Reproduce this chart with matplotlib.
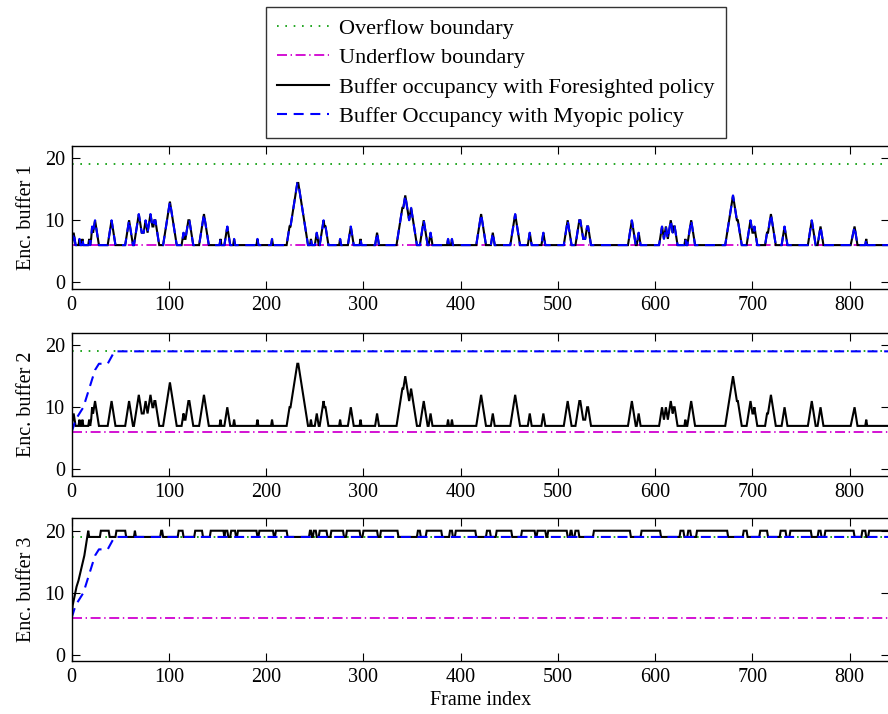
import matplotlib
matplotlib.use("Agg")
import matplotlib.pyplot as plt

plt.rcParams['font.family'] = ['Liberation Serif', 'DejaVu Serif']
plt.rcParams['lines.scale_dashes'] = False
FS = 14.5
LFS = 16

# ---------------- data ----------------
frames_max = 840
overflow = 19
underflow = 6

# Panel 1: foresighted buffer occupancy (vertices: frame, value)
fore1_pts = [
    (0, 6), (2, 8), (4, 6), (7, 6), (8, 7), (9, 6), (10, 6), (11, 7), (12, 6), (17, 6), (18, 7), (19, 6),
    (20, 7), (21, 9), (22, 8), (24, 10), (28, 6), (37, 6), (41, 10), (45, 6), (55, 6), (59, 10), (63, 6),
    (64, 6), (69, 11), (72, 8), (74, 8), (76, 10), (78, 8), (81, 11), (83, 9), (84, 9), (85, 10), (86, 10),
    (90, 6), (94, 6), (101, 13), (108, 6), (113, 6), (115, 8), (116, 7), (117, 7), (120, 10), (121, 10),
    (125, 6), (131, 6), (136, 11), (141, 6), (152, 6), (153, 7), (154, 6), (157, 6), (160, 9), (163, 6),
    (166, 6), (167, 7), (168, 6), (190, 6), (191, 7), (192, 6), (205, 6), (206, 7), (207, 6), (221, 6),
    (224, 9), (225, 9), (232, 16), (233, 16), (243, 6), (245, 6), (246, 7), (247, 6), (250, 6), (252, 8),
    (254, 6), (255, 6), (259, 10), (260, 9), (261, 9), (262, 8), (264, 6), (275, 6), (276, 7), (277, 6),
    (284, 6), (287, 9), (290, 6), (296, 6), (297, 7), (298, 6), (312, 6), (314, 8), (316, 6), (334, 6),
    (340, 12), (341, 12), (343, 14), (347, 10), (349, 12), (355, 6), (358, 6), (362, 10), (366, 6),
    (367, 6), (369, 8), (371, 6), (386, 6), (387, 7), (388, 6), (390, 6), (391, 7), (392, 6), (416, 6),
    (421, 11), (426, 6), (431, 6), (433, 8), (435, 6), (451, 6), (456, 11), (461, 6), (469, 6), (471, 8),
    (473, 6), (483, 6), (485, 8), (487, 6), (506, 6), (510, 10), (514, 6), (518, 6), (522, 10), (523, 10),
    (526, 7), (528, 7), (530, 9), (531, 9), (534, 6), (572, 6), (576, 10), (580, 6), (581, 6), (583, 8),
    (585, 6), (604, 6), (607, 9), (609, 7), (611, 9), (613, 7), (616, 10), (618, 8), (619, 9), (620, 9),
    (623, 6), (630, 6), (631, 7), (632, 6), (633, 6), (637, 10), (641, 6), (672, 6), (680, 14), (684, 10),
    (685, 10), (689, 6), (694, 6), (698, 10), (700, 8), (701, 8), (702, 9), (705, 6), (713, 6), (715, 8),
    (716, 8), (719, 11), (724, 6), (730, 6), (733, 9), (736, 6), (757, 6), (761, 10), (765, 6), (767, 6),
    (770, 9), (773, 6), (801, 6), (805, 9), (808, 6), (816, 6), (817, 7), (818, 6), (840, 6),
]
# Panel 1: myopic buffer occupancy (follows the foresighted curve closely)
myop1_pts = fore1_pts

# Panel 2: foresighted buffer occupancy
fore2_pts = [
    (0, 7), (2, 9), (4, 7), (7, 7), (8, 8), (9, 7), (10, 7), (11, 8), (12, 7), (17, 7), (18, 8), (19, 7),
    (20, 8), (21, 10), (22, 9), (24, 11), (28, 7), (37, 7), (41, 11), (45, 7), (55, 7), (59, 11), (63, 7),
    (64, 7), (69, 12), (72, 9), (74, 9), (76, 11), (78, 9), (81, 12), (83, 10), (84, 10), (85, 11), (86, 11),
    (90, 7), (94, 7), (101, 14), (108, 7), (113, 7), (115, 9), (116, 8), (117, 8), (120, 11), (121, 11),
    (125, 7), (131, 7), (136, 12), (141, 7), (152, 7), (153, 8), (154, 7), (157, 7), (160, 10), (163, 7),
    (166, 7), (167, 8), (168, 7), (190, 7), (191, 8), (192, 7), (205, 7), (206, 8), (207, 7), (221, 7),
    (224, 10), (225, 10), (232, 17), (233, 17), (243, 7), (245, 7), (246, 8), (247, 7), (250, 7), (252, 9),
    (254, 7), (255, 7), (259, 11), (260, 10), (261, 10), (262, 9), (264, 7), (275, 7), (276, 8), (277, 7),
    (284, 7), (287, 10), (290, 7), (296, 7), (297, 8), (298, 7), (312, 7), (314, 9), (316, 7), (334, 7),
    (340, 13), (341, 13), (343, 15), (347, 11), (349, 13), (355, 7), (358, 7), (362, 11), (366, 7),
    (367, 7), (369, 9), (371, 7), (386, 7), (387, 8), (388, 7), (390, 7), (391, 8), (392, 7), (416, 7),
    (421, 12), (426, 7), (431, 7), (433, 9), (435, 7), (451, 7), (456, 12), (461, 7), (469, 7), (471, 9),
    (473, 7), (483, 7), (485, 9), (487, 7), (506, 7), (510, 11), (514, 7), (518, 7), (522, 11), (523, 11),
    (526, 8), (528, 8), (530, 10), (531, 10), (534, 7), (572, 7), (576, 11), (580, 7), (581, 7), (583, 9),
    (585, 7), (604, 7), (607, 10), (609, 8), (611, 10), (613, 8), (616, 11), (618, 9), (619, 10), (620, 10),
    (623, 7), (630, 7), (631, 8), (632, 7), (633, 7), (637, 11), (641, 7), (672, 7), (680, 15), (684, 11),
    (685, 11), (689, 7), (694, 7), (698, 11), (700, 9), (701, 9), (702, 10), (705, 7), (713, 7), (715, 9),
    (716, 9), (719, 12), (724, 7), (730, 7), (733, 10), (736, 7), (757, 7), (761, 11), (765, 7), (767, 7),
    (770, 10), (773, 7), (801, 7), (805, 10), (808, 7), (816, 7), (817, 8), (818, 7), (840, 7),
]
# Panels 2 and 3: myopic buffer occupancy (ramps up to the overflow level)
myop_ramp_pts = [(0, 6), (4, 8), (8, 9), (12, 10), (18, 13), (24, 16), (28, 17), (37, 17), (44, 19), (840, 19)]

# Panel 3: foresighted buffer occupancy: initial ramp then 19/20 toggling
fore3_ramp_pts = [(0, 6), (1, 8), (5, 11), (7, 12), (10, 14), (13, 16), (17, 20), (18, 19)]
fore3_high_intervals = [
    (30, 38), (46, 55), (65, 65), (92, 93), (110, 114), (127, 134), (143, 156), (158, 160), (164, 168),
    (171, 190), (193, 207), (210, 221), (245, 246), (249, 251), (255, 262), (267, 279), (283, 296),
    (300, 314), (318, 335), (356, 358), (365, 380), (389, 391), (395, 415), (427, 430), (437, 452),
    (463, 476), (479, 487), (490, 509), (513, 514), (518, 521), (537, 574), (586, 605), (626, 629),
    (634, 636), (643, 674), (691, 694), (708, 715), (729, 734), (739, 760), (768, 770), (775, 804),
    (813, 816), (820, 840),
]

ylabels = ["Enc. buffer 1", "Enc. buffer 2", "Enc. buffer 3"]
xticks = [0, 100, 200, 300, 400, 500, 600, 700, 800]
yticks = [0, 10, 20]
legend_labels = ["Overflow boundary", "Underflow boundary",
                 "Buffer occupancy with Foresighted policy",
                 "Buffer Occupancy with Myopic policy"]

# build panel 3 vertex list from the read intervals
fore3_pts = list(fore3_ramp_pts)
for a, b in fore3_high_intervals:
    fore3_pts += [(a - 1, 19), (a, 20), (b, 20)]
    if b + 1 <= frames_max:
        fore3_pts.append((b + 1, 19))
if fore3_pts[-1][0] < frames_max:
    fore3_pts.append((frames_max, fore3_pts[-1][1]))

panels = [
    (fore1_pts, myop1_pts),
    (fore2_pts, myop_ramp_pts),
    (fore3_pts, myop_ramp_pts),
]

# ---------------- styles ----------------
GREEN = '#12a012'
MAGENTA = '#d000d0'
dot_dash = (0, (1.2, 4.8))
dashdot = (0, (7.2, 2.6, 1.0, 2.6))
dashed = (0, (7.2, 4.8))

fig = plt.figure(figsize=(8.88, 7.14), dpi=100)
W = 888.0
H = 714.0
left_px = 71.7
right_px = 888.6
tops_px = [145.7, 332.7, 518.3]
h_px = 142.9

axes = []
for i, (fore, myop) in enumerate(panels):
    ax = fig.add_axes([left_px / W, 1 - (tops_px[i] + h_px) / H, (right_px - left_px) / W, h_px / H])
    axes.append(ax)
    l_of, = ax.plot([0, frames_max], [overflow, overflow], linestyle=dot_dash, color=GREEN, lw=1.3)
    l_uf, = ax.plot([0, frames_max], [underflow, underflow], linestyle=dashdot, color=MAGENTA, lw=1.3)
    fx, fy = zip(*fore)
    mx, my = zip(*myop)
    l_f, = ax.plot(fx, fy, color='black', lw=1.5, solid_joinstyle='miter')
    l_m, = ax.plot(mx, my, linestyle=dashed, color='#0000ff', lw=1.5)
    ax.set_xlim(0, frames_max)
    ax.set_ylim(-1, 22)
    ax.set_xticks(xticks)
    ax.set_yticks(yticks)
    ax.tick_params(direction='in', length=5.5, width=0.8, labelsize=FS, top=True, right=True, pad=5)
    for s in ax.spines.values():
        s.set_linewidth(1.0)
    ax.set_ylabel(ylabels[i], fontsize=FS, labelpad=6)
    if i == 0:
        handles = [l_of, l_uf, l_f, l_m]

axes[-1].set_xlabel("Frame index", fontsize=FS, labelpad=3)

leg = fig.legend(handles, legend_labels,
                 loc='upper center', bbox_to_anchor=(496 / W, 1 - 7 / H),
                 fontsize=LFS, frameon=True, fancybox=False, edgecolor='black',
                 handlelength=2.35, handletextpad=0.45, labelspacing=0.40, borderpad=0.5,
                 borderaxespad=0)
leg.get_frame().set_linewidth(1.0)

fig.savefig("out.png", dpi=100)
